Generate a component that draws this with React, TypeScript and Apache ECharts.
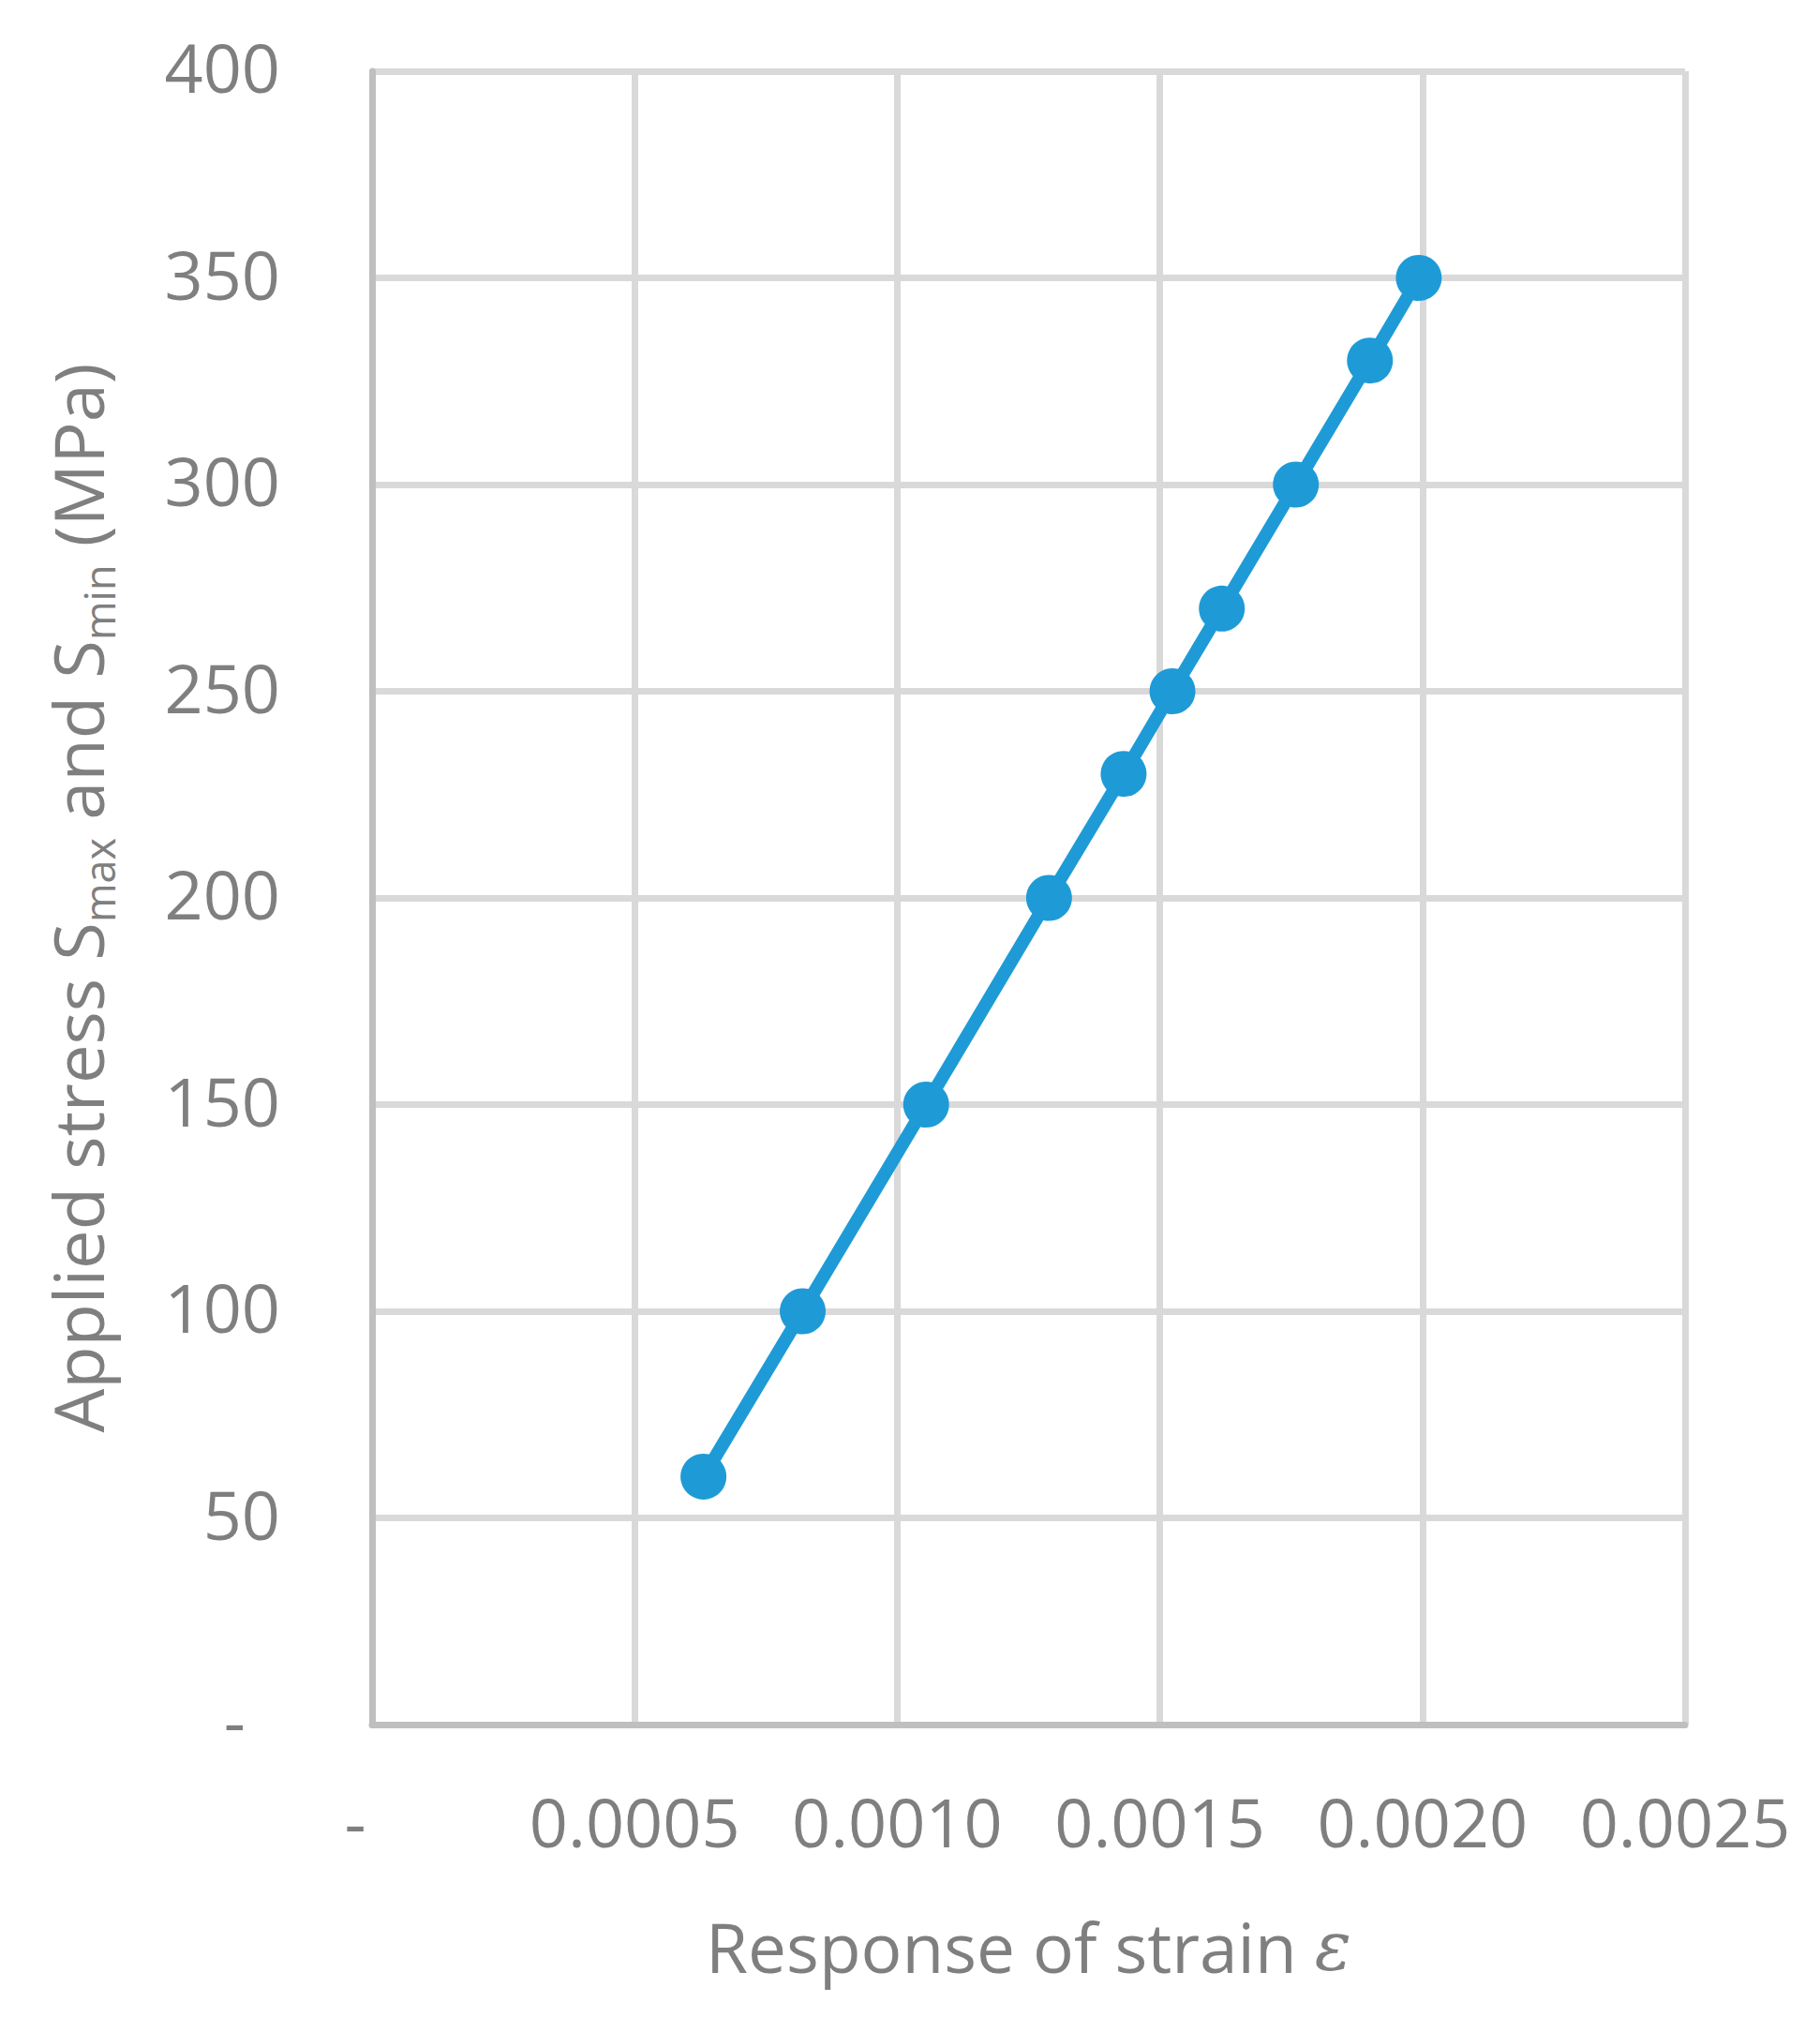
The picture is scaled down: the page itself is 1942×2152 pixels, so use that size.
import React, { useEffect, useRef } from "react";
import * as echarts from "echarts";

const strain = [0.000631, 0.00082, 0.001055, 0.001289, 0.001431, 0.001524, 0.001618, 0.001759, 0.0019, 0.001993];
const stress = [60, 100, 150, 200, 230, 250, 270, 300, 330, 350];
const xTicks = { min: 0, max: 0.0025, interval: 0.0005 };
const yTicks = { min: 0, max: 400, interval: 50 };

const FONT = "'Open Sans', 'Noto Sans', sans-serif";
const GRAY = "#7F7F7F";
const FS = 72;

export default function App() {
  const ref = useRef<HTMLDivElement>(null);
  useEffect(() => {
    if (!ref.current) return;
    const chart = echarts.init(ref.current, undefined, { renderer: "svg" });
    const data = strain.map((x, i) => [x, stress[i]]);
    chart.setOption({
      animation: false,
      backgroundColor: "#ffffff",
      grid: { left: 397, top: 76, right: 144, bottom: 312, containLabel: false },
      xAxis: {
        type: "value",
        min: xTicks.min,
        max: xTicks.max,
        interval: xTicks.interval,
        name: "{t|Response of strain }{e|ε}",
        nameLocation: "middle",
        nameGap: 196,
        nameTextStyle: {
          rich: {
            t: { fontSize: 73, fontFamily: FONT, color: GRAY, lineHeight: 80 },
            e: { fontSize: 73, fontFamily: "'DejaVu Serif', serif", fontStyle: "italic", color: GRAY, lineHeight: 80 },
          },
        },
        axisLine: { show: true, lineStyle: { color: "#BFBFBF", width: 7 } },
        axisTick: { show: false },
        splitLine: { show: true, lineStyle: { color: "#D9D9D9", width: 7 } },
        axisLabel: {
          margin: 67,
          fontSize: FS,
          fontFamily: FONT,
          color: GRAY,
          formatter: (v: number) => (v === 0 ? "{z|-}" : v.toFixed(4)),
          rich: { z: { fontSize: FS, fontFamily: FONT, color: GRAY, padding: [0, 36, 0, 0] } },
        },
      },
      yAxis: {
        type: "value",
        min: yTicks.min,
        max: yTicks.max,
        interval: yTicks.interval,
        name: "{t|Applied stress S}{s|max}{t| and S}{s|min}{t| (MPa)}",
        nameLocation: "middle",
        nameRotate: 90,
        nameGap: 278,
        nameTextStyle: {
          rich: {
            t: { fontSize: 74, fontFamily: FONT, color: GRAY, lineHeight: 74, verticalAlign: "bottom" },
            s: { fontSize: 45, fontFamily: FONT, color: GRAY, lineHeight: 8, verticalAlign: "top", padding: [38, 0, 0, 0] },
          },
        },
        axisLine: { show: true, lineStyle: { color: "#BFBFBF", width: 7 } },
        axisTick: { show: false },
        splitLine: { show: true, lineStyle: { color: "#D9D9D9", width: 7 } },
        axisLabel: {
          margin: 98,
          fontSize: FS,
          fontFamily: FONT,
          color: GRAY,
          padding: [0, 0, 10, 0],
          formatter: (v: number) => (v === 0 ? "{z|-}" : String(v)),
          rich: { z: { fontSize: FS, fontFamily: FONT, color: GRAY, padding: [0, 37, 0, 0] } },
        },
      },
      series: [
        {
          type: "line",
          data,
          symbol: "circle",
          symbolSize: 49,
          lineStyle: { color: "#1E9BD7", width: 14 },
          itemStyle: { color: "#1E9BD7" },
          z: 3,
        },
      ],
    });
    return () => chart.dispose();
  }, []);
  return (
    <div
      ref={ref}
      style={{ position: "absolute", left: 0, top: 0, width: 1942, height: 2152 }}
    />
  );
}
